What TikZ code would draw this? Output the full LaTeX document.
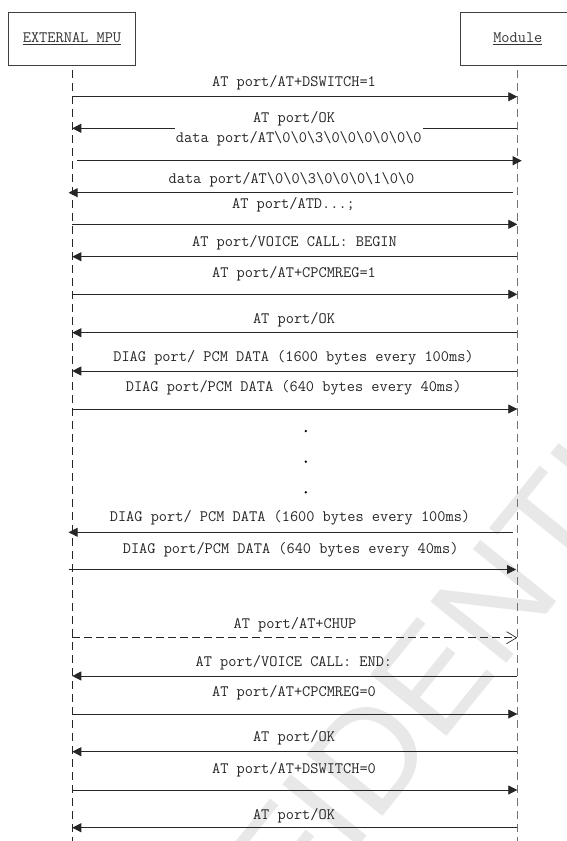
\documentclass[tikz,border=0pt]{standalone}
\usepackage{fontspec}
\newfontfamily\wmfont{Liberation Sans}
\usetikzlibrary{arrows.meta}
\newcommand\mybs{\textbackslash}
\begin{document}
\begin{tikzpicture}[x=1pt,y=-1pt,
  lbl/.style={font=\ttfamily\frenchspacing\fontsize{15.9}{18}\selectfont, text=black!85, anchor=base, inner sep=0pt},
  msg/.style={draw=black!85, line width=0.8pt, -{Triangle[length=9pt,width=9pt]}},
  msgdash/.style={draw=black!85, line width=0.8pt, dash pattern=on 8pt off 4pt, -{Straight Barb[length=10pt,width=12pt,line width=0.7pt]}},
  lifeL/.style={draw=black!85, line width=0.8pt, dash pattern=on 8pt off 5pt},
  lifeR/.style={draw=black!55, line width=0.8pt, dash pattern=on 8pt off 5pt},
  actor/.style={draw=black!75, line width=0.8pt, inner sep=0pt, font=\ttfamily\fontsize{15.9}{18}\selectfont, text=black!80, minimum height=52.3pt},
  dotn/.style={circle, fill=black, inner sep=0pt, minimum size=2.6pt}
]
\useasboundingbox (0,0) rectangle (567,841);
\clip (0,0) rectangle (567,841);
\fill[white] (0,0) rectangle (567,841);

% watermark
\node[font=\wmfont\fontsize{142}{142}\selectfont, text=black!9, rotate=51] (wm) at (387,733.5) {CONFIDENTIAL};

% actors
\node[actor, minimum width=127pt] (mpu) at (72,38.85) {\underline{EXTERNAL MPU}};
\node[actor, minimum width=114.3pt] (mod) at (517.85,38.85) {\underline{Module}};

% lifelines
\coordinate (Ltop) at (72.3,70);
\coordinate (Lbot) at (72.3,845);
\coordinate (Rtop) at (517.3,70);
\coordinate (Rbot) at (517.3,845);
\draw[lifeL] (Ltop) -- (Lbot);
\draw[lifeR] (Rtop) -- (Rbot);

% 1
\coordinate (a1) at (72.3,96.7); \coordinate (b1) at (517.3,96.7);
\draw[msg] (a1) -- (b1);
\node[lbl] (t1) at (294,86) {AT port/AT+DSWITCH=1};
% 2
\coordinate (a2) at (517.3,128.3); \coordinate (b2) at (72.3,128.3);
\draw[msg] (a2) -- (b2);
\node[lbl] (t2) at (294,122) {AT port/OK};
% 3
\coordinate (a3) at (77,160.7); \coordinate (b3) at (521.7,160.7);
\draw[msg] (a3) -- (b3);
\node[lbl, fill=white, inner xsep=1pt, inner ysep=5pt] (t3) at (298.8,142.7) {data port/AT\mybs0\mybs0\mybs3\mybs0\mybs0\mybs0\mybs0\mybs0\mybs0};
% 4
\coordinate (a4) at (513,192.7); \coordinate (b4) at (68.6,192.7);
\draw[msg] (a4) -- (b4);
\node[lbl] (t4) at (291.5,183) {data port/AT\mybs0\mybs0\mybs3\mybs0\mybs0\mybs0\mybs1\mybs0\mybs0};
% 5
\coordinate (a5) at (72.3,224.3); \coordinate (b5) at (517.3,224.3);
\draw[msg] (a5) -- (b5);
\node[lbl] (t5) at (293.5,208) {AT port/ATD...;};
% 6
\coordinate (a6) at (517.3,256.7); \coordinate (b6) at (72.3,256.7);
\draw[msg] (a6) -- (b6);
\node[lbl] (t6) at (294.5,246.7) {AT port/VOICE CALL: BEGIN};
% 7
\coordinate (a7) at (72.3,294.3); \coordinate (b7) at (517.3,294.3);
\draw[msg] (a7) -- (b7);
\node[lbl] (t7) at (294,277) {AT port/AT+CPCMREG=1};
% 8
\coordinate (a8) at (517.3,332.7); \coordinate (b8) at (72.3,332.7);
\draw[msg] (a8) -- (b8);
\node[lbl] (t8) at (294,323) {AT port/OK};
% 9
\coordinate (a9) at (517.3,371); \coordinate (b9) at (72.3,371);
\draw[msg] (a9) -- (b9);
\node[lbl] (t9) at (293.5,361) {DIAG port/ PCM DATA (1600 bytes every 100ms)};
% 10
\coordinate (a10) at (72.3,409); \coordinate (b10) at (517.3,409);
\draw[msg] (a10) -- (b10);
\node[lbl] (t10) at (293.7,391.7) {DIAG port/PCM DATA (640 bytes every 40ms)};
% dots
\node[dotn] (d1) at (305.8,431) {};
\node[dotn] (d2) at (305.8,461.7) {};
\node[dotn] (d3) at (305.8,492.3) {};
% 11
\coordinate (a11) at (513,532.3); \coordinate (b11) at (68.6,532.3);
\draw[msg] (a11) -- (b11);
\node[lbl] (t11) at (290,521.7) {DIAG port/ PCM DATA (1600 bytes every 100ms)};
% 12
\coordinate (a12) at (68.6,569.5); \coordinate (b12) at (516,569.5);
\draw[msg] (a12) -- (b12);
\node[lbl] (t12) at (290.7,553.3) {DIAG port/PCM DATA (640 bytes every 40ms)};
% 13
\coordinate (a13) at (72.3,637.7); \coordinate (b13) at (517.3,637.7);
\draw[msgdash] (a13) -- (b13);
\node[lbl] (t13) at (295,628.3) {AT port/AT+CHUP};
% 14
\coordinate (a14) at (517.3,676); \coordinate (b14) at (72.3,676);
\draw[msg] (a14) -- (b14);
\node[lbl] (t14) at (293.9,666) {AT port/VOICE CALL: END:};
% 15
\coordinate (a15) at (72.3,714); \coordinate (b15) at (517.3,714);
\draw[msg] (a15) -- (b15);
\node[lbl] (t15) at (294,696.7) {AT port/AT+CPCMREG=0};
% 16
\coordinate (a16) at (517.3,751.7); \coordinate (b16) at (72.3,751.7);
\draw[msg] (a16) -- (b16);
\node[lbl] (t16) at (294,741.7) {AT port/OK};
% 17
\coordinate (a17) at (72.3,790); \coordinate (b17) at (517.3,790);
\draw[msg] (a17) -- (b17);
\node[lbl] (t17) at (294,773) {AT port/AT+DSWITCH=0};
% 18
\coordinate (a18) at (517.3,827.7); \coordinate (b18) at (72.3,827.7);
\draw[msg] (a18) -- (b18);
\node[lbl] (t18) at (294,819) {AT port/OK};
\end{tikzpicture}
\end{document}
